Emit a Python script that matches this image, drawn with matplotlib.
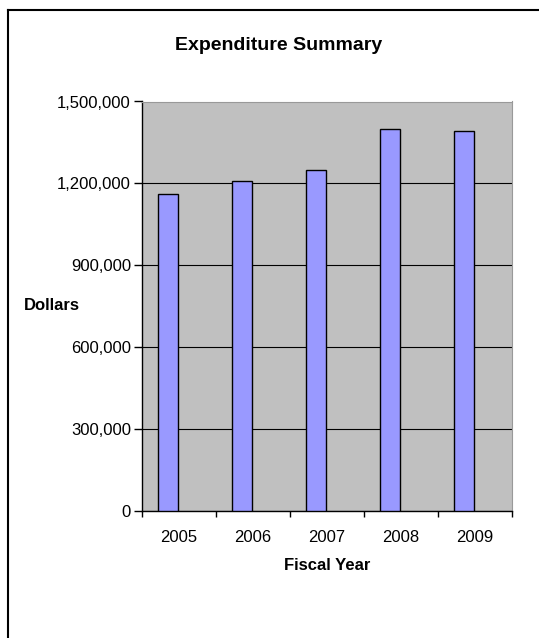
import matplotlib
matplotlib.use("Agg")
import matplotlib.pyplot as plt
from matplotlib.ticker import FuncFormatter
from matplotlib.lines import Line2D
import numpy as np

plt.rcParams['font.family'] = ['Liberation Sans', 'DejaVu Sans']

years = ['2005', '2006', '2007', '2008', '2009']
spending = [1162000, 1207000, 1249000, 1399000, 1392000]
yticks = [0, 300000, 600000, 900000, 1200000, 1500000]

fig = plt.figure(figsize=(5.39, 6.38), dpi=100)
W, H = 539, 638
ax = fig.add_axes([142 / W, 1 - 511 / H, 370 / W, 409.5 / H])

x = np.arange(len(years))
ax.bar(x - 0.15, spending, width=0.28, color='#9999FF', edgecolor='black',
       linewidth=1.0, zorder=3)

ax.set_facecolor('#C0C0C0')
ax.set_xlim(-0.5, len(years) - 0.5)
ax.set_ylim(0, 1500000)
ax.set_yticks(yticks)
ax.yaxis.set_major_formatter(FuncFormatter(lambda v, p: f'{int(v):,}'))
ax.grid(axis='y', color='black', linewidth=0.8, zorder=1)

ax.set_xticks(x, years)
ax.set_xticks(np.arange(len(years) + 1) - 0.5, minor=True)
ax.tick_params(axis='x', which='major', length=0, pad=14, labelsize=12)
ax.tick_params(axis='x', which='minor', length=4, width=1, color='black')
ax.tick_params(axis='y', length=6, width=1, pad=2, labelsize=12)

for s in ['top', 'right']:
    ax.spines[s].set_color('#999999')
for s in ['left', 'bottom']:
    ax.spines[s].set_color('black')
    ax.spines[s].set_linewidth(1.0)

fig.text(279 / W, 1 - 46 / H, 'Expenditure Summary', ha='center', va='center',
         fontsize=14, fontweight='bold')
fig.text(24 / W, 1 - 305 / H, 'Dollars', ha='left', va='center',
         fontsize=12, fontweight='bold')
fig.text(327 / W, 1 - 566 / H, 'Fiscal Year', ha='center', va='center',
         fontsize=12, fontweight='bold')

# outer chart frame (top and left edges visible)
fig.add_artist(Line2D([8 / W, 8 / W], [0, 1 - 10 / H], color='black', linewidth=1.5,
                      transform=fig.transFigure))
fig.add_artist(Line2D([8 / W, 1], [1 - 10 / H, 1 - 10 / H], color='black', linewidth=1.5,
                      transform=fig.transFigure))

fig.savefig('out.png', dpi=100)
